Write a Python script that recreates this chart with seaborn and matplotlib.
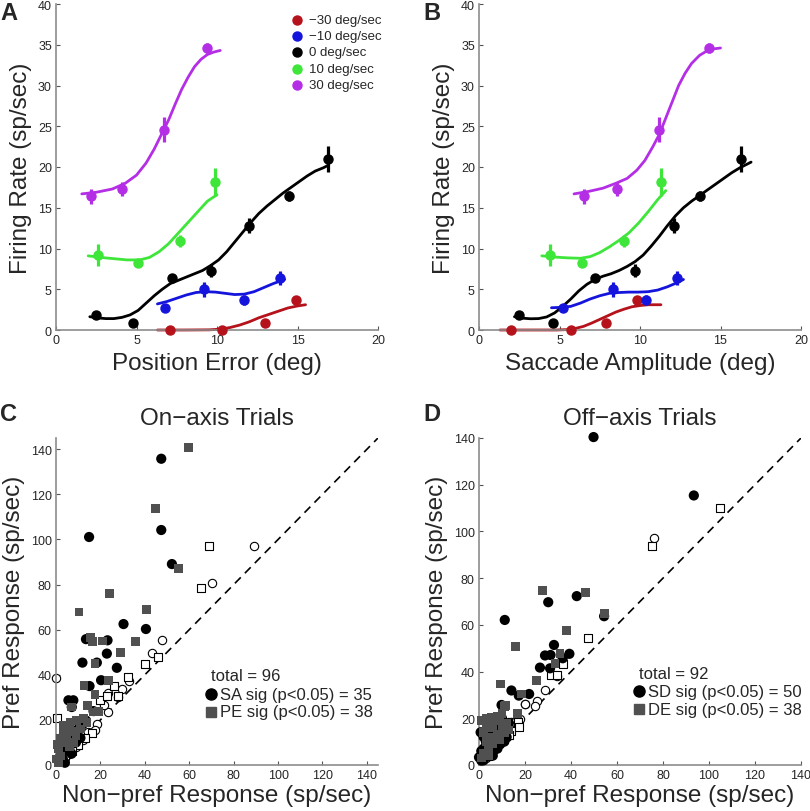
import matplotlib
matplotlib.use('Agg')
import matplotlib.pyplot as plt
import seaborn as sns

sns.set_theme(style='white')
plt.rcParams['font.family'] = ['Liberation Sans', 'DejaVu Sans']

# ---------------------------------------------------------------------------
# Panels A / B: firing rate vs position error / saccade amplitude
# ---------------------------------------------------------------------------
speeds = ['\u221230 deg/sec', '\u221210 deg/sec', '0 deg/sec', '10 deg/sec', '30 deg/sec']
speed_colors = ['#b5121b', '#1414dc', '#000000', '#3ee63a', '#b42ee6']

# mean rates (same cells in A and B) and error bars
rate = [
    [0.0, 0.0, 0.9, 3.7],
    [2.7, 5.0, 3.7, 6.4],
    [1.8, 0.9, 6.4, 7.3, 12.8, 16.4, 21.0],
    [9.2, 8.2, 10.9, 18.2],
    [16.4, 17.3, 24.6, 34.6],
]
rate_err = [
    [0.2, 0.2, 0.3, 0.5],
    [0.5, 0.9, 0.6, 0.9],
    [0.3, 0.3, 0.5, 0.8, 0.9, 0.6, 1.6],
    [1.4, 0.3, 0.7, 1.7],
    [0.9, 0.8, 1.5, 0.6],
]
pe_x = [
    [7.1, 10.3, 13.0, 14.9],
    [6.8, 9.2, 11.7, 13.9],
    [2.5, 4.8, 7.2, 9.6, 12.0, 14.5, 16.9],
    [2.6, 5.1, 7.7, 9.9],
    [2.2, 4.1, 6.7, 9.4],
]
sa_x = [
    [2.0, 5.7, 7.9, 9.8],
    [5.2, 8.3, 10.4, 12.3],
    [2.5, 4.6, 7.2, 9.7, 12.1, 13.7, 16.3],
    [4.4, 6.4, 9.0, 11.3],
    [6.5, 8.6, 11.2, 14.3],
]

# fitted curves
fitA_x = [
    [6.3, 8.0, 9.5, 10.2, 10.8, 11.4, 12.0, 12.6, 13.2, 13.8, 14.4, 15.0, 15.5],
    [6.3, 6.9, 7.5, 8.1, 8.7, 9.3, 9.9, 10.5, 11.1, 11.7, 12.3, 12.9, 13.5, 14.2],
    [2.1, 2.6, 3.1, 3.6, 4.1, 4.6, 5.1, 5.6, 6.1, 6.6, 7.1, 7.6, 8.1, 8.6, 9.1, 9.6, 10.1,
     10.6, 11.1, 11.6, 12.1, 12.6, 13.1, 13.6, 14.1, 14.6, 15.1, 15.6, 16.1, 16.6, 16.9],
    [2.0, 2.8, 3.6, 4.4, 5.2, 5.8, 6.4, 7.0, 7.6, 8.2, 8.8, 9.4, 10.0],
    [1.6, 2.5, 3.5, 4.3, 5.0, 5.6, 6.1, 6.6, 7.0, 7.4, 7.8, 8.2, 8.6, 9.0, 9.4, 9.8, 10.2],
]
fitA_y = [
    [0.0, 0.0, 0.02, 0.1, 0.3, 0.6, 1.0, 1.5, 1.9, 2.3, 2.7, 2.95, 3.1],
    [3.2, 3.5, 3.9, 4.3, 4.6, 4.7, 4.65, 4.5, 4.35, 4.4, 4.7, 5.2, 5.7, 6.2],
    [1.63, 1.48, 1.4, 1.4, 1.55, 1.85, 2.4, 3.3, 4.2, 5.0, 5.7, 6.1, 6.5, 6.9, 7.3, 7.9, 8.6,
     9.6, 10.8, 12.0, 13.2, 14.3, 15.2, 16.0, 16.8, 17.5, 18.2, 18.9, 19.5, 19.9, 20.2],
    [9.1, 8.9, 8.75, 8.6, 8.6, 8.9, 9.6, 10.6, 11.9, 13.2, 14.5, 15.8, 16.6],
    [16.7, 16.9, 17.3, 18.0, 19.0, 20.5, 22.2, 24.2, 25.8, 27.7, 29.5, 31.0, 32.3, 33.2, 33.8,
     34.1, 34.3],
]
fitB_x = [
    [1.3, 3.5, 4.8, 5.5, 6.0, 6.5, 7.0, 7.5, 8.0, 8.5, 9.0, 9.5, 10.0, 10.5, 11.3],
    [4.5, 5.1, 5.7, 6.3, 6.9, 7.5, 8.1, 8.7, 9.3, 9.9, 10.5, 11.1, 11.7, 12.3, 12.7],
    [2.2, 2.7, 3.2, 3.7, 4.2, 4.7, 5.2, 5.7, 6.2, 6.7, 7.2, 7.7, 8.2, 8.7, 9.2, 9.7, 10.2,
     10.7, 11.2, 11.7, 12.2, 12.7, 13.2, 13.7, 14.2, 14.7, 15.2, 15.7, 16.2, 16.7, 16.9],
    [3.9, 4.7, 5.5, 6.3, 6.9, 7.5, 8.1, 8.7, 9.3, 9.9, 10.5, 11.1, 11.6],
    [5.9, 6.8, 7.7, 8.5, 9.2, 9.8, 10.3, 10.8, 11.2, 11.6, 12.0, 12.4, 12.8, 13.2, 13.7, 14.2,
     14.6, 15.0],
]
fitB_y = [
    [0.0, 0.0, 0.0, 0.05, 0.2, 0.45, 0.85, 1.3, 1.75, 2.2, 2.55, 2.85, 3.0, 3.1, 3.1],
    [2.73, 2.78, 2.9, 3.3, 3.8, 4.2, 4.5, 4.6, 4.65, 4.65, 4.7, 4.9, 5.3, 5.8, 6.2],
    [1.63, 1.45, 1.38, 1.4, 1.6, 2.1, 2.9, 3.8, 4.8, 5.6, 6.2, 6.6, 6.9, 7.3, 7.8, 8.4, 9.2,
     10.3, 11.5, 12.8, 14.0, 15.0, 15.8, 16.5, 17.2, 17.9, 18.6, 19.3, 19.9, 20.4, 20.6],
    [9.1, 8.95, 8.85, 8.8, 9.0, 9.5, 10.2, 11.0, 11.9, 13.1, 14.5, 16.0, 17.1],
    [16.7, 17.0, 17.4, 18.0, 18.6, 19.6, 20.8, 22.5, 24.0, 26.0, 28.0, 30.0, 31.5, 32.7, 33.7,
     34.3, 34.5, 34.6],
]

# ---------------------------------------------------------------------------
# Panels C / D: preferred vs non-preferred response
# ---------------------------------------------------------------------------
C_circ_x = [47.4, 14.9, 47.4, 52.2, 30.4, 40.5, 13.5, 23.2, 22.9, 11.9, 18.4, 27.4, 20.3, 15.1,
            5.6, 7.8, 7.1, 16.9, 13.5, 1, 2, 3, 4, 5, 6, 8, 10, 12, 3, 6, 9, 2, 7, 11, 4]
C_circ_y = [135.8, 101.1, 104.2, 89.1, 62.5, 60.3, 55.8, 55.3, 49.4, 45.4, 45.4, 43.1, 37.6, 35.0,
            28.7, 28.7, 25.7, 23.9, 19.7, 2, 4, 6, 8, 10, 12, 14, 16, 18, 3, 7, 10, 9, 5, 12, 1]
C_sq_x = [59.8, 44.9, 55.0, 24.1, 10.4, 40.6, 35.7, 15.4, 16.6, 21.1, 29.2, 17.6, 12.6, 23.6,
          17.6, 14.2, 19.1, 6.9, 16.9, 3.3, 6.3, 9.3, 12.3, 3.3, 1.8, 1.1, 0.3, 5, 7, 2, 9,
          0.5, 4, 11, 14, 1, 6, 8]
C_sq_y = [140.7, 113.7, 87.0, 76.0, 67.8, 69.0, 54.9, 56.4, 54.9, 55.0, 49.9, 45.0, 35.3, 37.6,
          31.2, 26.4, 23.8, 25.7, 23.5, 17.5, 19.0, 19.8, 20.5, 14.6, 11.6, 7.1, 2.7, 12, 15, 4, 13,
          9, 10, 16, 19, 1, 8, 10]
C_ocirc_x = [89.1, 70.4, 47.9, 43.4, 32.8, 29.7, 0.0, 23.6, 27.7, 23.2, 21.4, 18.4, 3.3, 17.6,
             14.6, 12, 9, 6, 4]
C_ocirc_y = [96.9, 80.9, 55.4, 49.7, 37.1, 33.6, 38.6, 31.9, 30.1, 23.5, 26.4, 18.3, 13.8, 15.3,
             14.6, 11, 8, 5, 3]
C_osq_x = [68.8, 65.3, 46.1, 40.3, 32.4, 26.2, 19.6, 22.9, 28.1, 0.5, 16, 13, 10, 7]
C_osq_y = [97.2, 78.4, 47.9, 44.7, 39.0, 35.0, 28.7, 30.4, 30.4, 21, 14, 12, 9, 6]

D_circ_x = [49.8, 93.4, 42.5, 30.1, 11.2, 54.4, 32.6, 28.7, 31.1, 39.3, 36.4, 26.5, 30.9, 14.1,
            17.3, 21.8, 9.8, 0.7, 1.0, 0.0, 7.0, 2, 3, 4, 5, 6, 7, 8, 5, 4, 3, 10, 12, 8, 11, 13,
            7, 9, 2, 4, 6, 9, 5, 10, 3, 6, 8, 1, 12, 2]
D_circ_y = [140.4, 115.4, 72.3, 69.7, 62.1, 63.7, 51.4, 46.9, 47.1, 47.6, 45.7, 41.7, 41.4, 31.9,
            29.7, 30.4, 25.7, 14.0, 1.9, 3.3, 14.8, 2, 5, 7, 9, 11, 13, 16, 15, 11, 8, 13, 15, 7, 10,
            18, 19, 18, 12, 17, 4, 9, 6, 20, 10, 17, 11, 6, 12, 7]
D_sq_x = [27.7, 46.3, 54.7, 38.1, 15.9, 9.5, 25.0, 35.2, 33.0, 11.6, 18.5, 16.6, 1.0, 5.4, 9.0,
          3, 7, 8, 6, 2, 3, 4, 1, 5, 9, 10, 12, 4, 11, 6, 2, 8, 13, 3, 7, 10, 5, 11]
D_sq_y = [74.7, 73.7, 65.0, 57.6, 50.9, 34.7, 36.1, 47.6, 43.3, 25.4, 30.4, 21.9, 19.0, 20.4, 19.7,
          20, 19, 21, 16, 14, 10, 7, 3, 12, 11, 22, 18, 4, 25, 9, 5, 13, 15, 17, 11, 16, 18, 14]
D_ocirc_x = [76.0, 28.7, 33.8, 25.0, 19.9, 24.4, 14.1, 17.8, 20.0, 15.7, 3, 6, 9, 12, 10]
D_ocirc_y = [97.3, 32.1, 38.3, 27.6, 26.1, 25.4, 18.3, 19.7, 26.3, 18.4, 3, 6, 9, 12, 11]
D_osq_x = [104.8, 75.0, 47.6, 36.4, 31.1, 33.8, 17.0, 14.1, 17.2, 4, 8, 11, 13, 6]
D_osq_y = [110.0, 93.6, 54.3, 43.3, 38.6, 38.6, 18.3, 14.7, 16.2, 4, 8, 11, 13, 7]

SPINE = '#8c8c8c'
SQ_GRAY = '#505050'
TICK_FS = 9
LABEL_FS = 17.5


def style_axes(ax):
    for side in ['top', 'right']:
        ax.spines[side].set_visible(False)
    for side in ['left', 'bottom']:
        ax.spines[side].set_color(SPINE)
        ax.spines[side].set_linewidth(1.2)
    ax.tick_params(direction='in', length=3, width=0.8, color='#555555',
                   labelsize=TICK_FS, pad=3, left=True, bottom=True)
    ax.grid(False)


def tuning_panel(ax, xs, fx, fy, xlabel):
    for i, c in enumerate(speed_colors):
        sns.lineplot(x=fx[i], y=fy[i], ax=ax, color=c, lw=2.0, sort=False,
                     estimator=None, clip_on=False, zorder=2)
        ax.errorbar(xs[i], rate[i], yerr=rate_err[i], fmt='o', color=c, ms=6.5,
                    elinewidth=2.3, capsize=0, clip_on=False, zorder=3)
    ax.set_xlim(0, 20)
    ax.set_ylim(0, 40)
    ax.set_xticks([0, 5, 10, 15, 20])
    ax.set_yticks(range(0, 41, 5))
    ax.set_xlabel(xlabel, fontsize=LABEL_FS, labelpad=4)
    ax.set_ylabel('Firing Rate (sp/sec)', fontsize=LABEL_FS, labelpad=4)
    style_axes(ax)


def scatter_panel(ax, lim, circ, sq, ocirc, osq, title, labels):
    ax.plot([0, lim], [0, lim], ls=(0, (5, 3.5)), color='black', lw=1.2, zorder=1)
    sns.scatterplot(x=ocirc[0], y=ocirc[1], ax=ax, marker='o', s=36, facecolor='white',
                    edgecolor='black', linewidth=0.8, clip_on=False, zorder=2)
    sns.scatterplot(x=osq[0], y=osq[1], ax=ax, marker='s', s=26, facecolor='white',
                    edgecolor='black', linewidth=0.8, clip_on=False, zorder=2)
    sns.scatterplot(x=circ[0], y=circ[1], ax=ax, marker='o', s=54, color='black',
                    edgecolor='none', clip_on=False, zorder=3)
    sns.scatterplot(x=sq[0], y=sq[1], ax=ax, marker='s', s=40, color=SQ_GRAY,
                    edgecolor='none', clip_on=False, zorder=4)
    ax.set_xlim(0, lim)
    ax.set_ylim(0, lim)
    ax.set_xticks(range(0, 141, 20))
    ax.set_yticks(range(0, 141, 20))
    ax.set_xlabel('Non\u2212pref Response (sp/sec)', fontsize=LABEL_FS, labelpad=2)
    ax.set_ylabel('Pref Response (sp/sec)', fontsize=LABEL_FS, labelpad=4)
    ax.set_title(title, fontsize=17.5, pad=10)
    style_axes(ax)

    # legend text
    x0, y0 = labels[0]
    ax.text(x0, y0, labels[1], transform=ax.transAxes, fontsize=12, va='center', ha='left')
    ax.plot([x0], [y0 - 0.056], 'o', color='black', ms=8, transform=ax.transAxes,
            clip_on=False)
    ax.text(x0 + 0.029, y0 - 0.056, labels[2], transform=ax.transAxes, fontsize=12,
            va='center', ha='left')
    ax.plot([x0], [y0 - 0.11], 's', color=SQ_GRAY, ms=7, transform=ax.transAxes,
            clip_on=False)
    ax.text(x0 + 0.029, y0 - 0.11, labels[3], transform=ax.transAxes, fontsize=12,
            va='center', ha='left')


fig = plt.figure(figsize=(8.1, 8.12), dpi=100)
axA = fig.add_axes([56 / 810, 1 - 331 / 812, 322 / 810, 326 / 812])
axB = fig.add_axes([479 / 810, 1 - 331 / 812, 322 / 810, 326 / 812])
axC = fig.add_axes([56 / 810, 1 - 766 / 812, 322 / 810, 327 / 812])
axD = fig.add_axes([479 / 810, 1 - 766 / 812, 322 / 810, 327 / 812])

tuning_panel(axA, pe_x, fitA_x, fitA_y, 'Position Error (deg)')
tuning_panel(axB, sa_x, fitB_x, fitB_y, 'Saccade Amplitude (deg)')

# speed legend in panel A
for i, (lab, c) in enumerate(zip(speeds, speed_colors)):
    yy = 0.952 - 0.05 * i
    axA.plot([0.749], [yy], 'o', color=c, ms=6.5, transform=axA.transAxes, clip_on=False)
    axA.text(0.785, yy, lab, transform=axA.transAxes, fontsize=9.5, va='center', ha='left')

scatter_panel(axC, 145, (C_circ_x, C_circ_y), (C_sq_x, C_sq_y), (C_ocirc_x, C_ocirc_y),
              (C_osq_x, C_osq_y), 'On\u2212axis Trials',
              [(0.48, 0.273), 'total = 96', 'SA sig (p<0.05) = 35', 'PE sig (p<0.05) = 38'])
scatter_panel(axD, 140, (D_circ_x, D_circ_y), (D_sq_x, D_sq_y), (D_ocirc_x, D_ocirc_y),
              (D_osq_x, D_osq_y), 'Off\u2212axis Trials',
              [(0.497, 0.281), 'total = 92', 'SD sig (p<0.05) = 50', 'DE sig (p<0.05) = 38'])

# panel letters
for lx, ly, letter in [(0, 2, 'A'), (423, 2, 'B'), (0, 403, 'C'), (423, 403, 'D')]:
    fig.text(lx / 810, 1 - ly / 812, letter, fontsize=17, fontweight='bold', ha='left', va='top')

fig.savefig('out.png', dpi=100)
